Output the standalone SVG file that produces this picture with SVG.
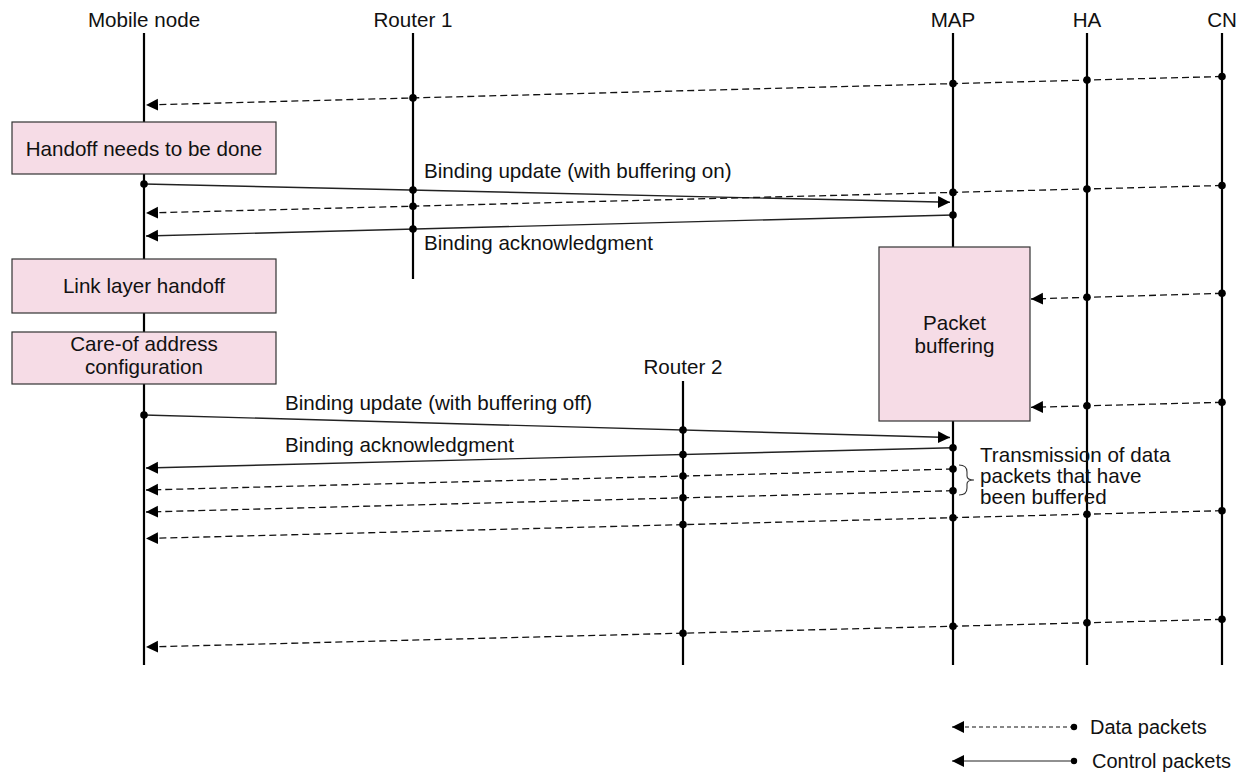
<svg xmlns="http://www.w3.org/2000/svg" width="1246" height="775" viewBox="0 0 1246 775">
  <style>
    text { font-family: "Liberation Sans", Arial, Helvetica, sans-serif; font-size: 20.6px; fill: #111; }
    .mid { text-anchor: middle; }
    .life { stroke: #000; stroke-width: 2.2; fill: none; }
    .ctrl { stroke: #222; stroke-width: 1.4; fill: none; }
    .data { stroke: #111; stroke-width: 1.3; stroke-dasharray: 7 4; fill: none; }
    .box { fill: #f6dce6; stroke: #333; stroke-width: 1.2; }
    .dot { fill: #000; }
    .legend-data { stroke: #111; stroke-width: 1.1; stroke-dasharray: 4 3; fill: none; }
    .legend-ctrl { stroke: #222; stroke-width: 1.2; fill: none; }
    .legend-text { font-size: 20px; }
    .brace { stroke: #333; stroke-width: 1.1; fill: none; }
  </style>
  <defs>
    <marker id="head" markerUnits="userSpaceOnUse" markerWidth="13" markerHeight="13" refX="12" refY="6" orient="auto">
      <path d="M0,0 L12,6 L0,12 z" fill="#000"/>
    </marker>
  </defs>

  <rect width="1246" height="775" fill="#fff"/>

  <!-- lifelines with their headings -->
  <g id="mobile-node">
    <text class="mid" x="144" y="27">Mobile node</text>
    <line class="life" x1="144" y1="33" x2="144" y2="665"/>
  </g>
  <g id="router-1">
    <text class="mid" x="413" y="27">Router 1</text>
    <line class="life" x1="413" y1="33" x2="413" y2="279"/>
  </g>
  <g id="router-2">
    <text class="mid" x="683" y="374">Router 2</text>
    <line class="life" x1="683" y1="381" x2="683" y2="665"/>
  </g>
  <g id="map">
    <text class="mid" x="953" y="27">MAP</text>
    <line class="life" x1="953" y1="33" x2="953" y2="665"/>
  </g>
  <g id="ha">
    <text class="mid" x="1087" y="27">HA</text>
    <line class="life" x1="1087" y1="33" x2="1087" y2="665"/>
  </g>
  <g id="cn">
    <text class="mid" x="1222" y="27">CN</text>
    <line class="life" x1="1222" y1="33" x2="1222" y2="665"/>
  </g>

  <!-- activity boxes -->
  <g id="handoff-needed">
    <rect class="box" x="12" y="122" width="264" height="52"/>
    <text class="mid" x="144" y="155.5">Handoff needs to be done</text>
  </g>
  <g id="link-layer-handoff">
    <rect class="box" x="12" y="259" width="264" height="54"/>
    <text class="mid" x="144" y="293">Link layer handoff</text>
  </g>
  <g id="coa-config">
    <rect class="box" x="12" y="332" width="264" height="52"/>
    <text class="mid" x="144" y="351">Care-of address</text>
    <text class="mid" x="144" y="374">configuration</text>
  </g>
  <g id="packet-buffering">
    <rect class="box" x="879" y="247" width="151" height="174"/>
    <text class="mid" x="954.5" y="330">Packet</text>
    <text class="mid" x="954.5" y="353">buffering</text>
  </g>

  <!-- messages -->
  <g id="connectors">
    <!-- data from CN before the handoff -->
    <line class="data" x1="1222" y1="76.5" x2="146" y2="105" marker-end="url(#head)"/>
    <circle class="dot" cx="1222" cy="76.5" r="3.8"/>
    <circle class="dot" cx="1087" cy="80.1" r="3.8"/>
    <circle class="dot" cx="953" cy="83.6" r="3.8"/>
    <circle class="dot" cx="413" cy="97.9" r="3.8"/>

    <!-- binding update, buffering on -->
    <line class="ctrl" x1="144" y1="184" x2="950" y2="202.3" marker-end="url(#head)"/>
    <circle class="dot" cx="144" cy="184" r="3.8"/>
    <circle class="dot" cx="413" cy="190.1" r="3.8"/>
    <text x="424" y="178">Binding update (with buffering on)</text>

    <line class="data" x1="1222" y1="185.5" x2="146" y2="213" marker-end="url(#head)"/>
    <circle class="dot" cx="1222" cy="185.5" r="3.8"/>
    <circle class="dot" cx="1087" cy="189" r="3.8"/>
    <circle class="dot" cx="953" cy="192.4" r="3.8"/>
    <circle class="dot" cx="413" cy="206.2" r="3.8"/>

    <!-- binding acknowledgment -->
    <line class="ctrl" x1="953" y1="215" x2="146" y2="236" marker-end="url(#head)"/>
    <circle class="dot" cx="953" cy="215" r="3.8"/>
    <circle class="dot" cx="413" cy="229" r="3.8"/>
    <text x="424" y="250">Binding acknowledgment</text>

    <!-- data held at the MAP -->
    <line class="data" x1="1222" y1="293.3" x2="1031" y2="299" marker-end="url(#head)"/>
    <circle class="dot" cx="1222" cy="293.3" r="3.8"/>
    <circle class="dot" cx="1087" cy="297.3" r="3.8"/>
    <line class="data" x1="1222" y1="402.3" x2="1031" y2="407.3" marker-end="url(#head)"/>
    <circle class="dot" cx="1222" cy="402.3" r="3.8"/>
    <circle class="dot" cx="1087" cy="405.8" r="3.8"/>

    <!-- binding update, buffering off -->
    <line class="ctrl" x1="144" y1="415" x2="950" y2="437.5" marker-end="url(#head)"/>
    <circle class="dot" cx="144" cy="415" r="3.8"/>
    <circle class="dot" cx="683" cy="430" r="3.8"/>
    <text x="285" y="410">Binding update (with buffering off)</text>

    <line class="ctrl" x1="953" y1="447.7" x2="146" y2="468" marker-end="url(#head)"/>
    <circle class="dot" cx="953" cy="447.7" r="3.8"/>
    <circle class="dot" cx="683" cy="454.5" r="3.8"/>
    <text x="285" y="452">Binding acknowledgment</text>

    <!-- buffered packets released -->
    <line class="data" x1="953" y1="469" x2="146" y2="490" marker-end="url(#head)"/>
    <circle class="dot" cx="953" cy="469" r="3.8"/>
    <circle class="dot" cx="683" cy="476" r="3.8"/>
    <line class="data" x1="953" y1="490.7" x2="146" y2="512" marker-end="url(#head)"/>
    <circle class="dot" cx="953" cy="490.7" r="3.8"/>
    <circle class="dot" cx="683" cy="497.8" r="3.8"/>
    <path class="brace" d="M959,465 Q967,465 967,472 L967,476 Q967,480 974,480 Q967,480 967,484 L967,488 Q967,495 959,495"/>
    <text x="980" y="462">Transmission of data</text>
    <text x="980" y="483">packets that have</text>
    <text x="980" y="504">been buffered</text>

    <!-- data after the handoff -->
    <line class="data" x1="1222" y1="510.7" x2="146" y2="538.5" marker-end="url(#head)"/>
    <circle class="dot" cx="1222" cy="510.7" r="3.8"/>
    <circle class="dot" cx="1087" cy="514.2" r="3.8"/>
    <circle class="dot" cx="953" cy="517.7" r="3.8"/>
    <circle class="dot" cx="683" cy="524.6" r="3.8"/>

    <line class="data" x1="1222" y1="619.3" x2="146" y2="647" marker-end="url(#head)"/>
    <circle class="dot" cx="1222" cy="619.3" r="3.8"/>
    <circle class="dot" cx="1087" cy="622.8" r="3.8"/>
    <circle class="dot" cx="953" cy="626.2" r="3.8"/>
    <circle class="dot" cx="683" cy="633.2" r="3.8"/>
  </g>

  <!-- key -->
  <g id="legend">
    <line class="legend-data" x1="1074" y1="727" x2="952" y2="727" marker-end="url(#head)"/>
    <circle class="dot" cx="1074" cy="727" r="3.2"/>
    <text class="legend-text" x="1090" y="734">Data packets</text>
    <line class="legend-ctrl" x1="1074" y1="761" x2="952" y2="761" marker-end="url(#head)"/>
    <circle class="dot" cx="1074" cy="761" r="3.2"/>
    <text class="legend-text" x="1092" y="768">Control packets</text>
  </g>
</svg>
